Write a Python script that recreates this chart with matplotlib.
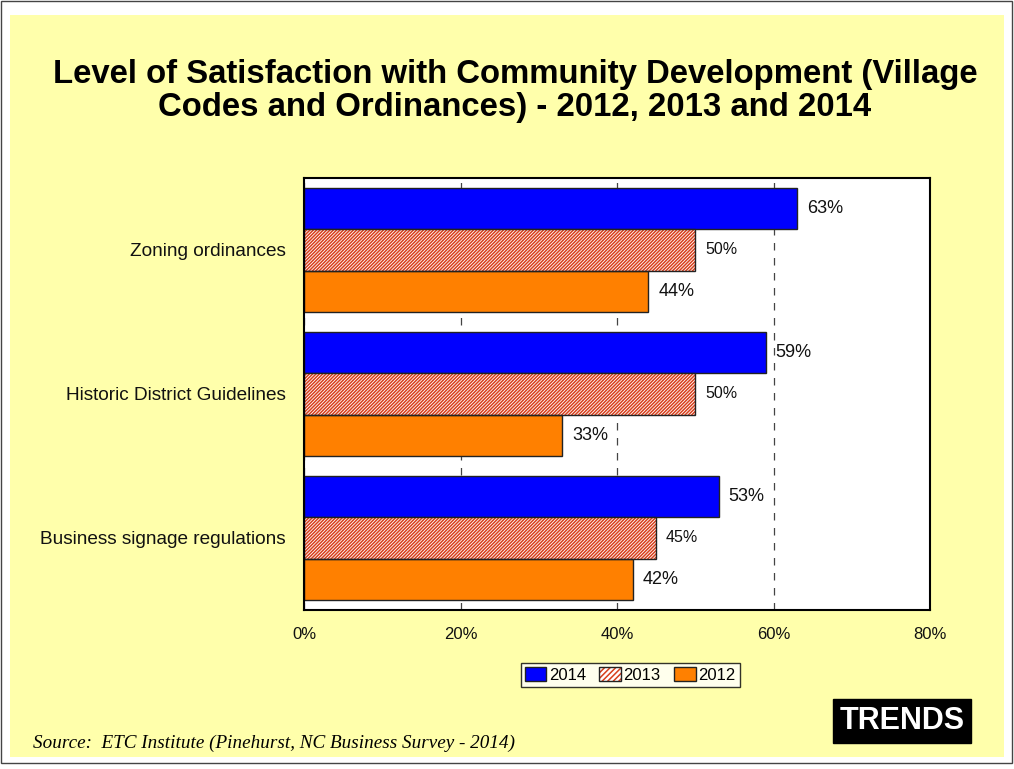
import matplotlib
matplotlib.use("Agg")
import matplotlib.pyplot as plt
from matplotlib.patches import Rectangle, Patch
from matplotlib.legend_handler import HandlerTuple
from matplotlib.ticker import FuncFormatter
from matplotlib.transforms import offset_copy

# Survey results (percent satisfied)
categories = ["Zoning ordinances", "Historic District Guidelines", "Business signage regulations"]
years = ["2014", "2013", "2012"]
values_2014 = [63, 59, 53]
values_2013 = [50, 50, 45]
values_2012 = [44, 33, 42]
x_ticks = [0, 20, 40, 60, 80]

plt.rcParams["font.family"] = ["Liberation Sans", "DejaVu Sans"]
plt.rcParams["hatch.linewidth"] = 1.1

BLUE = "#0000FF"
ORANGE = "#FF8000"
HATCH_RED = "#D8401C"
EDGE = "#222222"
HATCH = "//////////"

W, H = 1014, 769
fig = plt.figure(figsize=(W / 100, H / 100), dpi=100)
fig.patch.set_facecolor("white")

# slide panel behind everything
fig.patches.append(Rectangle((10 / W, 1 - 757 / H), 994 / W, 742 / H,
                             transform=fig.transFigure, facecolor="#FFFFAB",
                             edgecolor="none", zorder=-2))
fig.patches.append(Rectangle((1 / W, 1 - 763 / H), 1011 / W, 762 / H,
                             transform=fig.transFigure, facecolor="none",
                             edgecolor="#444444", linewidth=1.0, zorder=-1))

ax = fig.add_axes([304 / W, 1 - 610 / H, 626 / W, 432 / H])
ax.set_facecolor("white")

h = 0.287
pos = list(range(len(categories)))


def label_bars(bars, vals, fs):
    for b, v in zip(bars, vals):
        ax.text(v, b.get_y() + b.get_height() / 2, f"{v}%",
                transform=offset_copy(ax.transData, fig=fig, x=10, y=0, units="dots"),
                va="center", ha="left", fontsize=fs, color="#111111", zorder=5)


b14 = ax.barh([p - h for p in pos], values_2014, height=h, color=BLUE,
              edgecolor=EDGE, linewidth=1.0, zorder=3)
label_bars(b14, values_2014, 13)

# hatched bars: red hatch fill, then a dark outline on top
ax.barh(pos, values_2013, height=h, facecolor="white", edgecolor=HATCH_RED,
        hatch=HATCH, linewidth=0, zorder=3)
b13 = ax.barh(pos, values_2013, height=h, facecolor="none", edgecolor=EDGE,
              linewidth=1.0, zorder=4)
label_bars(b13, values_2013, 11.5)

b12 = ax.barh([p + h for p in pos], values_2012, height=h, color=ORANGE,
              edgecolor=EDGE, linewidth=1.0, zorder=3)
label_bars(b12, values_2012, 13)

ax.set_xlim(0, 80)
ax.set_ylim(2.5, -0.5)
ax.set_xticks(x_ticks)
ax.xaxis.set_major_formatter(FuncFormatter(lambda v, _: f"{v:.0f}%"))
ax.set_yticks(pos)
ax.set_yticklabels(categories, fontsize=13.7)
ax.tick_params(axis="both", length=0, colors="#111111")
ax.tick_params(axis="x", pad=12, labelsize=12)
ax.tick_params(axis="y", pad=13)
ax.grid(axis="x", linestyle=(0, (6, 6)), color="#444444", linewidth=0.9, zorder=1)
for s in ax.spines.values():
    s.set_color("black")
    s.set_linewidth(1.5)
    s.set_zorder(6)

handles = [Patch(facecolor=BLUE, edgecolor=EDGE),
           (Patch(facecolor="white", edgecolor=HATCH_RED, hatch="//////", linewidth=0),
            Patch(facecolor="none", edgecolor=EDGE)),
           Patch(facecolor=ORANGE, edgecolor=EDGE)]
leg = fig.legend(handles, years, loc="center", bbox_to_anchor=(630 / W, 1 - 675 / H),
                 ncol=3, fontsize=12, frameon=True, fancybox=False,
                 handlelength=1.3, handleheight=0.9, handletextpad=0.15,
                 columnspacing=0.8, borderpad=0.25, borderaxespad=0,
                 handler_map={tuple: HandlerTuple(ndivide=1, pad=0)})
leg.get_frame().set_edgecolor("black")
leg.get_frame().set_linewidth(1.0)

fig.text(515 / W, 1 - 91 / H,
         "Level of Satisfaction with Community Development (Village\nCodes and Ordinances) - 2012, 2013 and 2014",
         ha="center", va="center", fontsize=23.7, fontweight="bold", linespacing=1.12)

fig.text(33 / W, 1 - 743 / H, "Source:  ETC Institute (Pinehurst, NC Business Survey - 2014)",
         ha="left", va="center", fontsize=13.8, fontstyle="italic",
         family=["Liberation Serif", "DejaVu Serif"])

fig.text(902 / W, 1 - 721 / H, "TRENDS", ha="center", va="center", fontsize=22,
         fontweight="bold", color="white",
         bbox=dict(boxstyle="square,pad=0.22", facecolor="black", edgecolor="black"))

fig.savefig("out.png", dpi=100, facecolor=fig.get_facecolor())
